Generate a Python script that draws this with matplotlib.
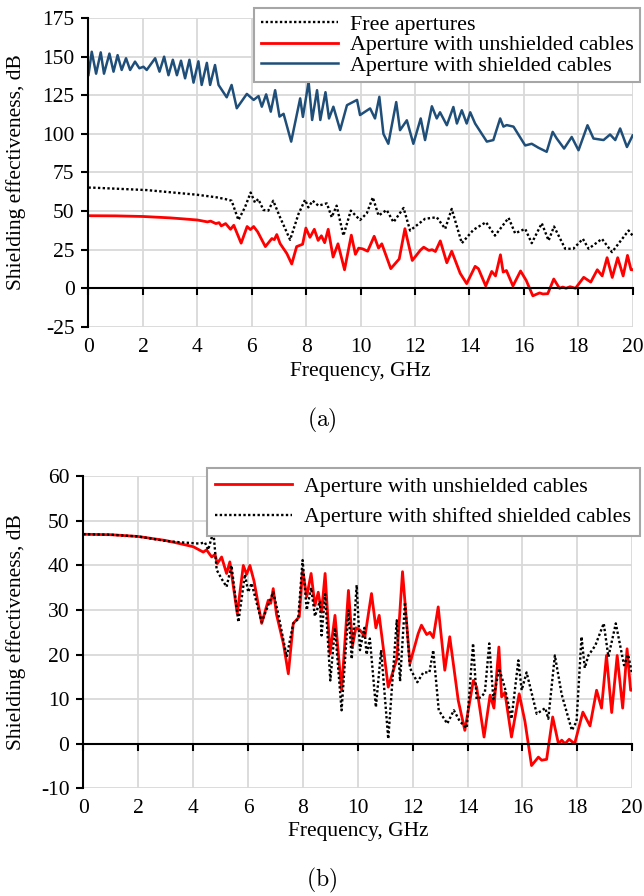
"""
Shielding effectiveness vs frequency for apertures with/without cables.
(a) free apertures / unshielded cables / shielded cables
(b) unshielded cables vs shifted shielded cables
"""

import matplotlib
matplotlib.use('Agg')
import matplotlib.pyplot as plt

plt.rcParams['font.family'] = ['Liberation Serif', 'DejaVu Serif']
plt.rcParams['axes.unicode_minus'] = False

# ---- data ----
# aperture with unshielded cables (same curve in both panels)
f_unsh = [0, 1, 2, 3, 3.52, 4.01, 4.37, 4.49, 4.68, 4.8, 4.88, 5.04, 5.22, 5.34, 5.61,
          5.83, 5.95, 6.07, 6.22, 6.5, 6.74, 6.83, 6.92, 7.04, 7.29, 7.47, 7.65, 7.87,
          7.99, 8.14, 8.3, 8.44, 8.56, 8.68, 8.81, 8.99, 9.17, 9.41, 9.66, 9.81, 9.93,
          10.08, 10.26, 10.5, 10.66, 10.78, 11.11, 11.42, 11.63, 11.9, 12.2, 12.32,
          12.51, 12.63, 12.75, 12.93, 13.17, 13.35, 13.66, 13.9, 14.21, 14.33, 14.6,
          14.82, 14.96, 15.14, 15.24, 15.36, 15.6, 15.88, 16.09, 16.33, 16.58, 16.7,
          16.88, 17.1, 17.31, 17.43, 17.55, 17.7, 17.9, 18.2, 18.46, 18.7, 18.88,
          19.06, 19.25, 19.45, 19.65, 19.81, 19.94, 20]
se_unsh = [47, 46.9, 46.5, 45.6, 44.9, 44.2, 43, 43.5, 41.9, 42.5, 40.4, 41.9, 38.2, 40.8,
           29.2, 40, 38, 40, 36.5, 27, 32.2, 31.5, 34.8, 29, 22.5, 15.7, 27, 28.5, 39,
           33, 38.2, 31, 34, 29.5, 38.2, 20.2, 28.8, 12, 34.4, 22, 26, 25.5, 24, 33.7,
           26, 28.8, 12.7, 19, 38.6, 18, 24.7, 26.6, 24.5, 25, 23.8, 30.7, 16.5, 24,
           9.7, 3, 14.2, 12.7, 1.5, 10.9, 8, 21.7, 10.5, 11.5, 1.5, 11.2, 5, -4.9, -3,
           -3.7, -3.5, 6, 0, 0.8, 0, 1, 0, 7.1, 4, 12, 8, 19.8, 7, 19.8, 8, 21.3, 12, 12]

# free apertures
f_free = [0, 0.12, 2.14, 3.98, 4.71, 5.02, 5.26, 5.51, 5.75, 5.96, 6.12, 6.24, 6.43,
          6.61, 6.79, 7.04, 7.41, 7.72, 7.96, 8.08, 8.24, 8.45, 8.76, 8.94, 9.12, 9.37,
          9.64, 9.98, 10.23, 10.45, 10.66, 10.96, 11.21, 11.58, 11.82, 12.37, 12.8,
          13.11, 13.35, 13.72, 14.15, 14.61, 14.94, 15.44, 15.68, 16.05, 16.29, 16.66,
          16.91, 17.11, 17.52, 17.82, 18.17, 18.38, 18.87, 19.24, 19.85, 20]
se_free = [65.2, 65.2, 63.6, 60.6, 58.9, 57.8, 56.7, 44.2, 52.4, 62, 55.5, 57.8, 50.7,
           50.3, 56.7, 46, 31.4, 48.2, 57.3, 52.4, 56.7, 53.5, 55, 46, 53.5, 34.1,
           50.3, 44.2, 48.6, 58.9, 47.1, 50.7, 42.8, 52, 37.4, 45, 46, 38.5, 51.4,
           29.2, 37.9, 42.8, 34.1, 45.6, 35.6, 38.5, 29.2, 42.1, 30.9, 40, 25.6, 25.6,
           32, 25.6, 32, 23.4, 37.4, 34.1]

# aperture with shielded cables
f_sh = [0, 0.12, 0.28, 0.45, 0.57, 0.77, 0.92, 1.07, 1.22, 1.38, 1.53, 1.71, 1.87, 2.02,
        2.14, 2.45, 2.61, 2.78, 2.94, 3.1, 3.25, 3.4, 3.55, 3.71, 3.86, 4.04, 4.16,
        4.35, 4.47, 4.65, 4.78, 5.08, 5.26, 5.45, 5.82, 6.07, 6.25, 6.37, 6.53, 6.7,
        6.86, 7.02, 7.17, 7.45, 7.78, 7.88, 8.09, 8.22, 8.4, 8.52, 8.71, 8.84, 9.0,
        9.25, 9.5, 9.87, 9.98, 10.35, 10.53, 10.69, 10.84, 11.02, 11.31, 11.45, 11.7,
        11.94, 12.21, 12.37, 12.62, 12.8, 12.92, 13.17, 13.41, 13.54, 13.72, 13.9,
        14.03, 14.21, 14.64, 14.88, 15.13, 15.25, 15.37, 15.62, 16.05, 16.29, 16.54,
        16.84, 17.06, 17.21, 17.48, 17.76, 18.01, 18.34, 18.56, 18.93, 19.17, 19.36,
        19.54, 19.79, 20]
se_sh = [138.2, 153.2, 139, 152.8, 139, 152, 140.3, 151, 141.4, 149, 141.4, 146.8,
         142.5, 143.5, 141.4, 149, 140.3, 150, 138, 148, 138, 147.4, 136, 148, 133.2,
         147, 131.7, 146, 131.7, 144.6, 131.7, 123.7, 131.7, 116.6, 125.9, 122, 124.5,
         117.6, 125.6, 114.4, 128.3, 111.2, 113, 95, 123, 111, 133.8, 109, 128.3, 109,
         127, 110, 117.6, 102.5, 118.6, 122, 112.2, 116.5, 110, 124, 100, 93.6, 120.6,
         102.4, 108.8, 93.6, 110, 96, 117.9, 110, 114, 105.6, 117.4, 106.7, 115.3,
         106.7, 114, 106.7, 95, 96, 110, 104.7, 105.7, 104.7, 92.5, 93.6, 91, 88.4,
         101.3, 97, 90.5, 98, 89.4, 105.6, 97, 96, 99.6, 96, 103.5, 91.5, 99]

# aperture with shifted shielded cables
f_shift = [0, 1, 2, 3, 3.52, 4.25, 4.43, 4.55, 4.74, 4.86, 5.04, 5.22, 5.4, 5.65, 5.89,
           6.01, 6.13, 6.5, 6.92, 7.1, 7.41, 7.65, 7.83, 7.99, 8.14, 8.3, 8.44, 8.62,
           8.68, 8.81, 9.0, 9.17, 9.41, 9.66, 9.78, 9.96, 10.08, 10.24, 10.32, 10.44,
           10.66, 10.85, 11.11, 11.42, 11.54, 11.72, 11.9, 12.17, 12.39, 12.61, 12.75,
           12.95, 13.26, 13.5, 13.72, 13.97, 14.2, 14.33, 14.5, 14.63, 14.79, 14.94,
           15.15, 15.36, 15.6, 15.85, 15.97, 16.15, 16.52, 16.83, 16.94, 17.18, 17.43,
           17.8, 17.97, 18.15, 18.27, 18.4, 18.65, 18.96, 19.13, 19.4, 19.7, 19.85, 20]
se_shift = [47, 46.9, 46.5, 45.5, 45.2, 44.9, 45.2, 43.5, 47.6, 39, 37, 35.2, 40, 27.3,
            38, 34, 36, 27.3, 34, 29.2, 19.5, 27, 28, 41.2, 30, 35, 28.6, 32, 24.3,
            33.6, 14.2, 26, 7.5, 30, 19, 35.6, 21, 26, 20, 23.6, 8.2, 21, 1.1, 27.7,
            14, 31.8, 17, 13.8, 16, 16, 21, 7.5, 4.5, 7.5, 5, 3.5, 22.5, 10, 10.5, 11.5,
            22.5, 10, 16.9, 12.5, 5.6, 18.7, 12, 16, 6.7, 8, 5.6, 19.8, 11, 3, 5, 24,
            17, 19.8, 22, 27, 19.5, 27, 17.6, 20, 15.5]

x_ticks = list(range(0, 21, 2))
y_ticks_a = list(range(-25, 176, 25))
y_ticks_b = list(range(-10, 61, 10))

RED = '#FF0000'
BLUE = '#1F4E79'
GRID = '#D9D9D9'
FS = 15.5


def style_axes(ax, yticks, xlabel_y, ylabel_x):
    ax.set_xlim(0, 20)
    ax.set_ylim(yticks[0], yticks[-1])
    ax.set_xticks(x_ticks)
    ax.set_yticks(yticks)
    ax.grid(True, color=GRID, linewidth=1.3)
    ax.set_axisbelow(True)
    for s in ['top', 'right']:
        ax.spines[s].set_visible(False)
    ax.spines['left'].set_linewidth(1.5)
    # horizontal axis line crosses at 0 dB, ticks pointing down, no labels there
    ax.spines['bottom'].set_position(('data', 0))
    ax.spines['bottom'].set_linewidth(1.5)
    ax.tick_params(axis='x', direction='out', length=5, width=1.5, labelbottom=False)
    ax.tick_params(axis='y', direction='out', length=5, width=1.5, pad=5, labelsize=FS)
    # tick labels sit below the plot area
    low = ax.secondary_xaxis('bottom')
    low.set_xticks(x_ticks)
    low.spines['bottom'].set_visible(False)
    low.tick_params(length=0, pad=8, labelsize=FS)
    ax.set_xlabel('Frequency, GHz', fontsize=FS)
    ax.xaxis.set_label_coords(0.5, xlabel_y)
    ax.set_ylabel('Shielding effectiveness, dB', fontsize=FS)
    ax.yaxis.set_label_coords(ylabel_x, 0.5)


def add_legend(ax, top_px, spacing, pad):
    leg = ax.legend(loc='upper right', bbox_to_anchor=(640 / 644, 1 - top_px / 896),
                    bbox_transform=fig.transFigure, borderaxespad=0, fontsize=15.8,
                    fancybox=False, framealpha=1, edgecolor='#A6A6A6',
                    handlelength=3.5, labelspacing=spacing, borderpad=pad,
                    handletextpad=0.55)
    leg.get_frame().set_linewidth(1.5)


fig = plt.figure(figsize=(6.44, 8.96), dpi=100)

# (a)
ax1 = fig.add_axes([0.1374, 0.6352, 0.8450, 0.3446])
ax1.plot(f_free, se_free, color='black', linewidth=1.7, linestyle=(0, (1, 1)),
         label='Free apertures')
ax1.plot(f_unsh, se_unsh, color=RED, linewidth=2.0, label='Aperture with unshielded cables')
ax1.plot(f_sh, se_sh, color=BLUE, linewidth=1.8, label='Aperture with shielded cables')
style_axes(ax1, y_ticks_a, -0.114, -0.115)
add_legend(ax1, 8, 0.0, 0.3)

# (b)
ax2 = fig.add_axes([0.1293, 0.1202, 0.8525, 0.3482])
ax2.plot(f_unsh, se_unsh, color=RED, linewidth=2.0, label='Aperture with unshielded cables')
ax2.plot(f_shift, se_shift, color='black', linewidth=1.7, linestyle=(0, (1, 1)),
         label='Aperture with shifted shielded cables')
style_axes(ax2, y_ticks_b, -0.108, -0.104)
add_legend(ax2, 468, 0.45, 0.4)

# captions
fig.text(0.5, 1 - 420 / 896, r'$\mathrm{(a)}$', math_fontfamily='cm', fontsize=17,
         ha='center', va='center')
fig.text(0.5, 1 - 880 / 896, r'$\mathrm{(b)}$', math_fontfamily='cm', fontsize=17,
         ha='center', va='center')

fig.savefig('out.png', dpi=100)
